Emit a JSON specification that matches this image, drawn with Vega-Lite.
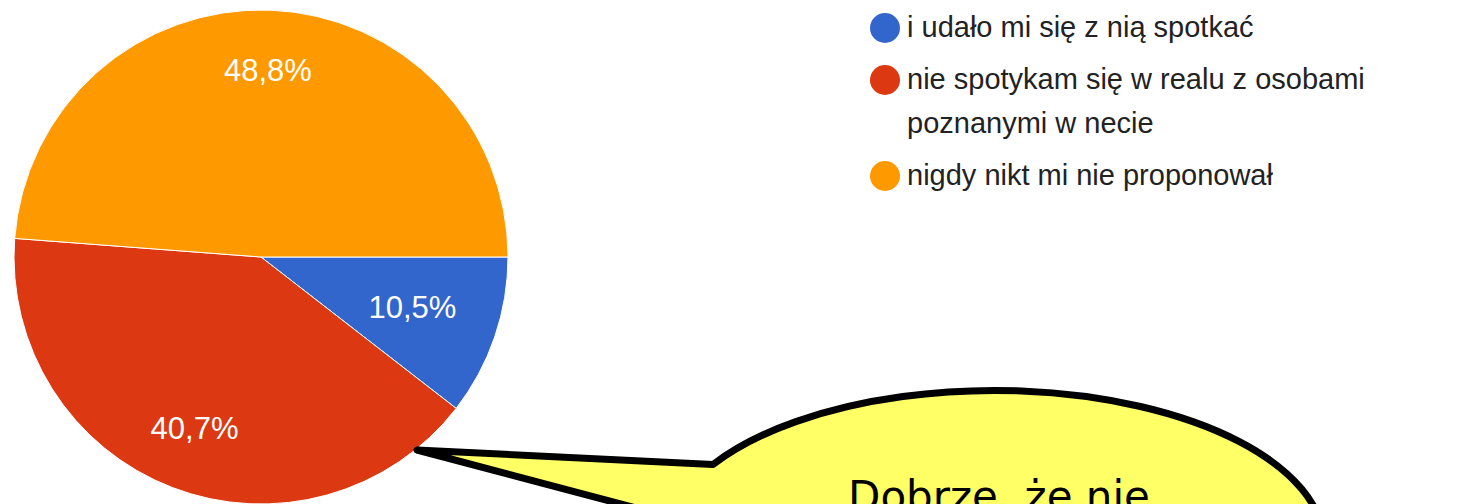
{
  "$schema": "https://vega.github.io/schema/vega-lite/v6.json",
  "width": 1475,
  "height": 504,
  "padding": 0,
  "autosize": {"type": "none"},
  "background": "white",
  "config": {"view": {"stroke": null}, "style": {"guide-label": {"lineHeight": 44}}},
  "datasets": {
    "pie": [
      {"answer": "i udało mi się z nią spotkać", "share": 10.5, "label": "10,5%"},
      {"answer": "nie spotykam się w realu z osobami poznanymi w necie", "share": 40.7, "label": "40,7%"},
      {"answer": "nigdy nikt mi nie proponował", "share": 48.8, "label": "48,8%"}
    ],
    "note": [{"text": "Dobrze, że nie"}]
  },
  "layer": [
    {
      "data": {"name": "pie"},
      "mark": {"type": "arc", "x": 261, "y": 257, "outerRadius": 247, "stroke": "white", "strokeWidth": 1},
      "encoding": {
        "theta": {"field": "share", "type": "quantitative", "stack": true, "scale": {"range": [1.5708, 7.854]}},
        "color": {
          "field": "answer",
          "type": "nominal",
          "scale": {
            "domain": ["i udało mi się z nią spotkać", "nie spotykam się w realu z osobami poznanymi w necie", "nigdy nikt mi nie proponował"],
            "range": ["#3366cc", "#dc3912", "#ff9900"]
          },
          "legend": {
            "orient": "none",
            "legendX": 870,
            "legendY": 13,
            "title": null,
            "padding": 0,
            "symbolType": "circle",
            "symbolSize": 900,
            "symbolStrokeWidth": 0,
            "labelFont": "Liberation Sans",
            "labelFontSize": 29,
            "labelColor": "#222222",
            "labelLimit": 0,
            "labelOffset": 7,
            "rowPadding": 22,
            "labelExpr": "indexof(datum.label, 'osobami ') > 0 ? split(replace(datum.label, 'osobami ', 'osobami|'), '|') : datum.label"
          }
        }
      }
    },
    {
      "data": {"name": "pie"},
      "mark": {
        "type": "text",
        "x": 261,
        "y": 257,
        "radius": {"expr": "datum.share < 20 ? 160 : 185"},
        "font": "Liberation Sans",
        "fontSize": 31,
        "fill": "white",
        "align": "center",
        "baseline": "middle"
      },
      "encoding": {
        "theta": {"field": "share", "type": "quantitative", "stack": true},
        "detail": {"field": "answer", "type": "nominal"},
        "text": {"field": "label", "type": "nominal"}
      }
    },
    {
      "data": {"name": "note"},
      "mark": {
        "type": "point",
        "x": 995,
        "y": 545,
        "size": 4,
        "filled": true,
        "fill": "#ffff66",
        "fillOpacity": 1,
        "stroke": "black",
        "strokeWidth": 7,
        "strokeJoin": "round",
        "opacity": 1,
        "shape": "M -578 -95 L -282 -80.5 A 330 155 0 1 1 -325 -28 Z"
      },
      "encoding": {}
    },
    {
      "data": {"name": "note"},
      "mark": {
        "type": "text",
        "x": 999,
        "y": 511,
        "font": "DejaVu Sans",
        "fontSize": 42,
        "fill": "black",
        "align": "center",
        "baseline": "alphabetic"
      },
      "encoding": {"text": {"field": "text", "type": "nominal"}}
    }
  ]
}
